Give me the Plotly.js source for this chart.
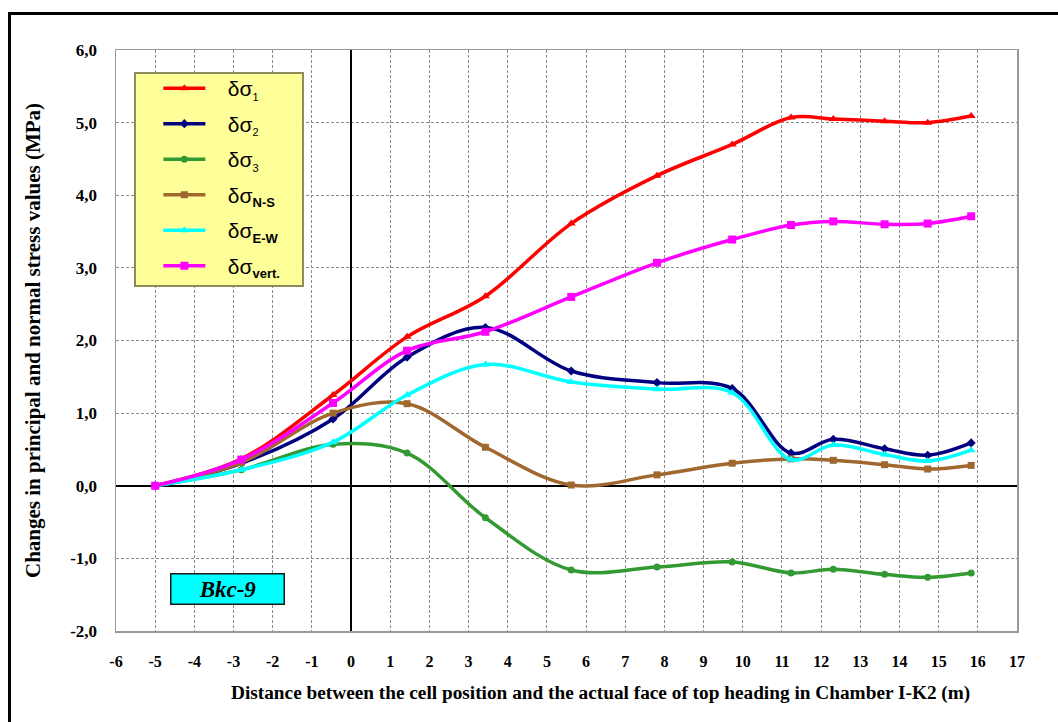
<!DOCTYPE html>
<html>
<head>
<meta charset="utf-8">
<script src="https://cdn.plot.ly/plotly-3.0.1.min.js"></script>
<style>
  html, body { margin: 0; padding: 0; background: #ffffff; }
  body { position: relative; width: 1058px; height: 722px; overflow: hidden; }
  #frame { position: absolute; left: 8px; top: 12px; width: 1200px; height: 900px;
           border: 3px solid #000; box-sizing: border-box; }
  #chart { position: absolute; left: 0; top: 0; width: 1058px; height: 722px; }
</style>
</head>
<body>
<div id="frame"></div>
<div id="chart"></div>
<script>
// Distance of each measurement from the face of the top heading (m)
const distance = [-5, -2.8, -0.46, 1.43, 3.43, 5.62, 7.81, 9.73, 11.23, 12.31, 13.62, 14.72, 15.83];

// Stress changes (MPa)
const dSigma1    = [0, 0.37, 1.25, 2.05, 2.61, 3.61, 4.27, 4.70, 5.07, 5.05, 5.02, 5.00, 5.09];
const dSigma2    = [0, 0.31, 0.92, 1.77, 2.18, 1.58, 1.42, 1.34, 0.45, 0.64, 0.51, 0.42, 0.59];
const dSigma3    = [0, 0.22, 0.57, 0.45, -0.44, -1.16, -1.12, -1.05, -1.20, -1.15, -1.22, -1.26, -1.20];
const dSigmaNS   = [0, 0.32, 1.00, 1.13, 0.53, 0.01, 0.15, 0.31, 0.37, 0.35, 0.29, 0.23, 0.28];
const dSigmaEW   = [0, 0.22, 0.60, 1.25, 1.67, 1.43, 1.33, 1.28, 0.36, 0.56, 0.43, 0.34, 0.49];
const dSigmaVert = [0, 0.36, 1.14, 1.86, 2.12, 2.60, 3.07, 3.39, 3.59, 3.64, 3.60, 3.61, 3.71];

const pad = '\u00a0\u00a0\u00a0';
const seriesNames = [
  pad + 'δσ<sub><span style="font-size:11px">1</span></sub>',
  pad + 'δσ<sub><span style="font-size:11px">2</span></sub>',
  pad + 'δσ<sub><span style="font-size:11px">3</span></sub>',
  pad + 'δσ<sub><b><span style="font-size:13px">N-S</span></b></sub>',
  pad + 'δσ<sub><b><span style="font-size:13px">E-W</span></b></sub>',
  pad + 'δσ<sub><b><span style="font-size:13px">vert.</span></b></sub>'
];

const xTickValues = [-6,-5,-4,-3,-2,-1,0,1,2,3,4,5,6,7,8,9,10,11,12,13,14,15,16,17];
const xTickLabels = ['-6','-5','-4','-3','-2','-1','0','1','2','3','4','5','6','7','8','9','10','11','12','13','14','15','16','17'];
const yTickValues = [-2, -1, 0, 1, 2, 3, 4, 5, 6];
const yTickLabels = ['-2,0', '-1,0', '0,0', '1,0', '2,0', '3,0', '4,0', '5,0', '6,0'];

const boxLabel = 'Bkc-9';
const xTitle = 'Distance between the cell position and the actual face of top heading in Chamber I-K2 (m)';
const yTitle = 'Changes in principal and normal stress values (MPa)';

function series(y, name, color, symbol, size, group) {
  return {
    x: distance, y: y, name: name, type: 'scatter', mode: 'lines+markers',
    legendgroup: group,
    line: { color: color, width: 3.5, shape: 'spline', smoothing: 1 },
    marker: { color: color, symbol: symbol, size: size }
  };
}

const traces = [
  series(dSigma1,    seriesNames[0], '#ff0000', 'triangle-up', 8, 'g1'),
  series(dSigma2,    seriesNames[1], '#000080', 'diamond',     7, 'g2'),
  series(dSigma3,    seriesNames[2], '#339933', 'circle',      7, 'g3'),
  series(dSigmaNS,   seriesNames[3], '#a0672f', 'square',      7, 'g4'),
  series(dSigmaEW,   seriesNames[4], '#00ffff', 'triangle-up', 8, 'g5'),
  series(dSigmaVert, seriesNames[5], '#ff00ff', 'square',      8, 'g6')
];

const serif = 'Liberation Serif, Times New Roman, serif';

const layout = {
  width: 1058, height: 722,
  margin: { l: 116, r: 41, t: 50, b: 91 },
  paper_bgcolor: 'rgba(0,0,0,0)',
  plot_bgcolor: '#ffffff',
  showlegend: true,
  legend: {
    x: 0.047, y: 0.969, xanchor: 'left', yanchor: 'top',
    bgcolor: 'rgba(0,0,0,0)', borderwidth: 0,
    traceorder: 'grouped', tracegroupgap: 5.2,
    itemwidth: 42,
    font: { family: 'Liberation Sans, Arial, sans-serif', size: 21, color: '#000' }
  },
  xaxis: {
    range: [-6, 17], tickvals: xTickValues, ticktext: xTickLabels, ticks: '',
    tickfont: { family: serif, size: 16, color: '#000', weight: 'bold' },
    ticklabelstandoff: 15,
    showgrid: true, gridcolor: '#8c8c8c', gridwidth: 1, griddash: '3px,2px',
    zeroline: true, zerolinecolor: '#000', zerolinewidth: 1.3,
    showline: true, mirror: true, linecolor: '#9a9a9a', linewidth: 1.5
  },
  yaxis: {
    range: [-2, 6], tickvals: yTickValues, ticktext: yTickLabels, ticks: '',
    tickfont: { family: serif, size: 17, color: '#000', weight: 'bold' },
    ticklabelstandoff: 14,
    showgrid: true, gridcolor: '#8c8c8c', gridwidth: 1, griddash: '3px,2px',
    zeroline: true, zerolinecolor: '#000', zerolinewidth: 1.5,
    showline: true, mirror: true, linecolor: '#9a9a9a', linewidth: 1.5,
    title: { text: yTitle, standoff: 24,
             font: { family: serif, size: 21, color: '#000', weight: 'bold' } }
  },
  // tick marks along the axes that cross at zero
  xaxis2: {
    overlaying: 'x', anchor: 'free', position: 0.25, range: [-6, 17],
    tickvals: xTickValues, ticks: 'outside', ticklen: 5, tickcolor: '#000', tickwidth: 1,
    showticklabels: false, showgrid: false, zeroline: false, showline: false
  },
  yaxis2: {
    overlaying: 'y', anchor: 'free', position: 6 / 23, side: 'left', range: [-2, 6],
    tickvals: yTickValues, ticks: 'outside', ticklen: 5, tickcolor: '#000', tickwidth: 1,
    showticklabels: false, showgrid: false, zeroline: false, showline: false
  },
  shapes: [
    { type: 'rect', xref: 'paper', yref: 'paper', layer: 'above',
      x0: 0.0211, x1: 0.2075, y0: 0.5936, y1: 0.9604,
      fillcolor: '#ffff99', line: { color: '#8c8c5a', width: 2 } }
  ],
  annotations: [
    { xref: 'paper', yref: 'paper', x: 0.1243, y: 0.0718, xanchor: 'center', yanchor: 'middle',
      text: '<b><i>' + boxLabel + '</i></b>', showarrow: false,
      width: 112, height: 29, borderpad: 0, bgcolor: '#00ffff',
      bordercolor: '#1a1a1a', borderwidth: 1.5,
      font: { family: serif, size: 23, color: '#000' } },
    // horizontal axis title
    { xref: 'paper', yref: 'paper', x: 0.538, y: -0.1073, xanchor: 'center', yanchor: 'middle',
      text: '<b>' + xTitle + '</b>', showarrow: false,
      font: { family: serif, size: 19.3, color: '#000' } }
  ]
};

Plotly.newPlot('chart', traces, layout, { displayModeBar: false, staticPlot: true });
</script>
</body>
</html>
